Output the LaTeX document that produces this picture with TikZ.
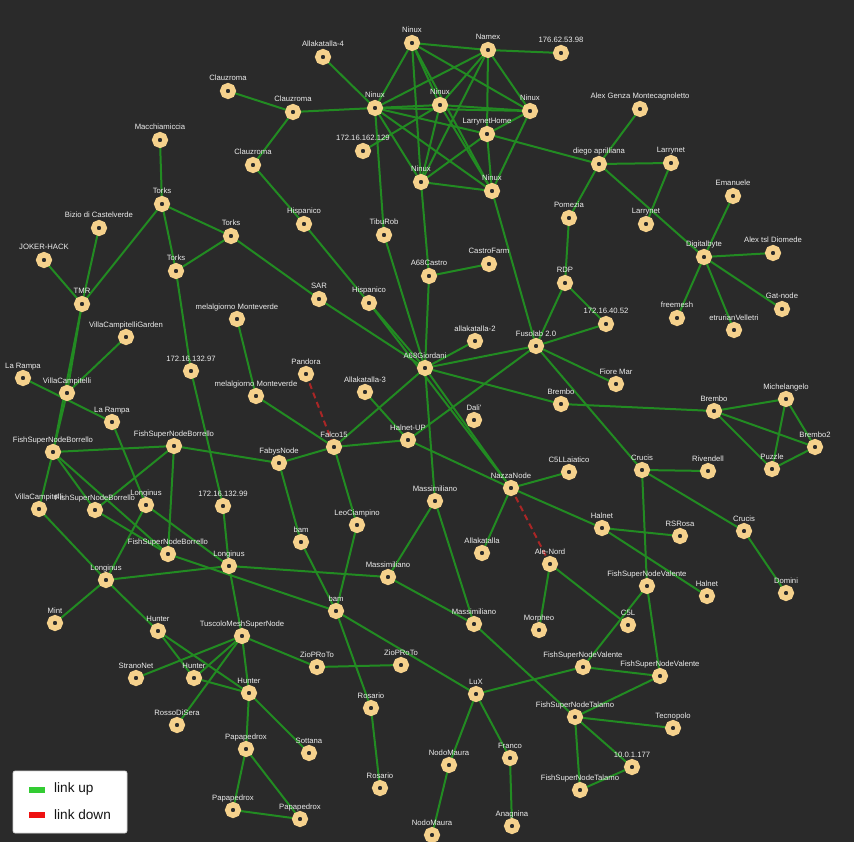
\documentclass[tikz,border=0pt]{standalone}
\usepackage{fontspec}
\setmainfont{Liberation Sans}[Ligatures=TeXOff]
\definecolor{bgc}{RGB}{42,42,42}
\definecolor{ringc}{RGB}{245,209,140}
\definecolor{linkc}{RGB}{34,139,34}
\definecolor{downc}{RGB}{170,38,38}
\definecolor{labc}{RGB}{236,236,236}
\pgfdeclarelayer{back}
\pgfsetlayers{back,main}
\tikzset{
  nd/.style={circle,draw=ringc,line width=5.5pt,fill=bgc,minimum size=10.5pt,inner sep=0pt},
  lab/.style={anchor=base,inner sep=0pt,text=labc,font=\fontsize{7.7}{8}\selectfont},
  edge/.style={draw=linkc,line width=2pt},
  linkdown/.style={draw=downc,line width=2pt,dash pattern=on 6pt off 4pt},
  legendbox/.style={fill=white,draw={rgb,255:red,210;green,210;blue,210},rounded corners=2pt,line width=0.6pt},
  legendtext/.style={anchor=west,inner sep=0pt,text={rgb,255:red,20;green,20;blue,20},font=\fontsize{13.6}{15}\selectfont}
}
\newcommand\Nd[4]{\node[nd] (#1) at (#2,#3) {};\node[lab] (#1-l) at (#2,#3-10) {#4};}
\begin{document}
\begin{tikzpicture}[x=1pt,y=-1pt]
\useasboundingbox (0,0) rectangle (854,842);
\Nd{clz1}{228}{91}{Clauzroma}
\Nd{clz2}{293}{112}{Clauzroma}
\Nd{clz3}{253}{165}{Clauzroma}
\Nd{macc}{160}{140}{Macchiamiccia}
\Nd{torks1}{162}{204}{Torks}
\Nd{torks2}{231}{236}{Torks}
\Nd{torks3}{176}{271}{Torks}
\Nd{bizio}{99}{228}{Bizio di Castelverde}
\Nd{joker}{44}{260}{JOKER-HACK}
\Nd{tmr}{82}{304}{TMR}
\Nd{allak4}{323}{57}{Allakatalla-4}
\Nd{nxtop}{412}{43}{Ninux}
\Nd{namex}{488}{50}{Namex}
\Nd{ipa}{561}{53}{176.62.53.98}
\Nd{nxl}{375}{108}{Ninux}
\Nd{nxm}{440}{105}{Ninux}
\Nd{nxr}{530}{111}{Ninux}
\Nd{lhome}{487}{134}{LarrynetHome}
\Nd{ipb}{363}{151}{172.16.162.129}
\Nd{nxbl}{421}{182}{Ninux}
\Nd{nxbr}{492}{191}{Ninux}
\Nd{hisp1}{304}{224}{Hispanico}
\Nd{tibu}{384}{235}{TibuRob}
\Nd{a68c}{429}{276}{A68Castro}
\Nd{cfarm}{489}{264}{CastroFarm}
\Nd{pomezia}{569}{218}{Pomezia}
\Nd{rdp}{565}{283}{RDP}
\Nd{alexg}{640}{109}{Alex Genza Montecagnoletto}
\Nd{diego}{599}{164}{diego aprilliana}
\Nd{larry1}{671}{163}{Larrynet}
\Nd{larry2}{646}{224}{Larrynet}
\Nd{emanuele}{733}{196}{Emanuele}
\Nd{digital}{704}{257}{Digitalbyte}
\Nd{alexd}{773}{253}{Alex tsl Diomede}
\Nd{vcg}{126}{337}{VillaCampitelliGarden}
\Nd{lar1}{23}{378}{La Rampa}
\Nd{vc1}{67}{393}{VillaCampitelli}
\Nd{lar2}{112}{422}{La Rampa}
\Nd{ipc}{191}{371}{172.16.132.97}
\Nd{mel1}{237}{319}{melalgiorno Monteverde}
\Nd{mel2}{256}{396}{melalgiorno Monteverde}
\Nd{fsnb1}{53}{452}{FishSuperNodeBorrello}
\Nd{fsnb2}{174}{446}{FishSuperNodeBorrello}
\Nd{faby}{279}{463}{FabysNode}
\Nd{vc2}{39}{509}{VillaCampitelli}
\Nd{fsnb3}{95}{510}{FishSuperNodeBorrello}
\Nd{long1}{146}{505}{Longinus}
\Nd{ipd}{223}{506}{172.16.132.99}
\Nd{fsnb4}{168}{554}{FishSuperNodeBorrello}
\Nd{long2}{229}{566}{Longinus}
\Nd{long3}{106}{580}{Longinus}
\Nd{sar}{319}{299}{SAR}
\Nd{hisp2}{369}{303}{Hispanico}
\Nd{a68g}{425}{368}{A68Giordani}
\Nd{allak2}{475}{341}{allakatalla-2}
\Nd{fuso}{536}{346}{Fusolab 2.0}
\Nd{pandora}{306}{374}{Pandora}
\Nd{allak3}{365}{392}{Allakatalla-3}
\Nd{brembo1}{561}{404}{Brembo}
\Nd{dali}{474}{420}{Dali'}
\Nd{halnetup}{408}{440}{Halnet-UP}
\Nd{falco}{334}{447}{Falco15}
\Nd{nazza}{511}{488}{NazzaNode}
\Nd{cfive}{569}{472}{C5LLaiatico}
\Nd{mass1}{435}{501}{Massimiliano}
\Nd{leo}{357}{525}{LeoCiampino}
\Nd{bam1}{301}{542}{bam}
\Nd{allak}{482}{553}{Allakatalla}
\Nd{alenord}{550}{564}{Ale-Nord}
\Nd{freemesh}{677}{318}{freemesh}
\Nd{etrurian}{734}{330}{etrurianVelletri}
\Nd{gat}{782}{309}{Gat-node}
\Nd{ipe}{606}{324}{172.16.40.52}
\Nd{fiore}{616}{384}{Fiore Mar}
\Nd{brembo2}{714}{411}{Brembo}
\Nd{michel}{786}{399}{Michelangelo}
\Nd{brembob}{815}{447}{Brembo2}
\Nd{puzzle}{772}{469}{Puzzle}
\Nd{crucis1}{642}{470}{Crucis}
\Nd{rivendell}{708}{471}{Rivendell}
\Nd{crucis2}{744}{531}{Crucis}
\Nd{halnet}{602}{528}{Halnet}
\Nd{rsrosa}{680}{536}{RSRosa}
\Nd{mint}{55}{623}{Mint}
\Nd{hunter1}{158}{631}{Hunter}
\Nd{tuscolo}{242}{636}{TuscoloMeshSuperNode}
\Nd{strano}{136}{678}{StranoNet}
\Nd{hunter2}{194}{678}{Hunter}
\Nd{hunter3}{249}{693}{Hunter}
\Nd{rosso}{177}{725}{RossoDiSera}
\Nd{papa1}{246}{749}{Papapedrox}
\Nd{papa2}{233}{810}{Papapedrox}
\Nd{papa3}{300}{819}{Papapedrox}
\Nd{mass2}{388}{577}{Massimiliano}
\Nd{bam2}{336}{611}{bam}
\Nd{mass3}{474}{624}{Massimiliano}
\Nd{morpheo}{539}{630}{Morpheo}
\Nd{zio1}{317}{667}{ZioPRoTo}
\Nd{zio2}{401}{665}{ZioPRoTo}
\Nd{lux}{476}{694}{LuX}
\Nd{rosario1}{371}{708}{Rosario}
\Nd{sottana}{309}{753}{Sottana}
\Nd{nodo1}{449}{765}{NodoMaura}
\Nd{franco}{510}{758}{Franco}
\Nd{rosario2}{380}{788}{Rosario}
\Nd{nodo2}{432}{835}{NodoMaura}
\Nd{anagnina}{512}{826}{Anagnina}
\Nd{fsnv1}{647}{586}{FishSuperNodeValente}
\Nd{halnet2}{707}{596}{Halnet}
\Nd{domini}{786}{593}{Domini}
\Nd{cfl}{628}{625}{C5L}
\Nd{fsnv2}{583}{667}{FishSuperNodeValente}
\Nd{fsnv3}{660}{676}{FishSuperNodeValente}
\Nd{fsnt1}{575}{717}{FishSuperNodeTalamo}
\Nd{tecno}{673}{728}{Tecnopolo}
\Nd{ipf}{632}{767}{10.0.1.177}
\Nd{fsnt2}{580}{790}{FishSuperNodeTalamo}
% legend
\node[legendbox,minimum width=114pt,minimum height=62pt,inner sep=0pt] (legend) at (70,802) {};
\node[fill={rgb,255:red,51;green,204;blue,51},minimum width=16pt,minimum height=6pt,inner sep=0pt] (swup) at (37,789.5) {};
\node[fill={rgb,255:red,238;green,17;blue,17},minimum width=16pt,minimum height=6pt,inner sep=0pt] (swdown) at (37,815) {};
\node[legendtext] (tup) at (54,789) {link up};
\node[legendtext] (tdown) at (54,815) {link down};
\begin{pgfonlayer}{back}
\fill[bgc] (0,0) rectangle (854,842);
\foreach \a/\b in {clz1/clz2,clz2/clz3,clz3/hisp1,clz2/nxl,hisp1/hisp2,hisp2/a68g,hisp2/nazza,
 macc/torks1,torks1/torks2,torks1/torks3,torks1/tmr,torks3/torks2,torks2/sar,sar/a68g,torks3/ipc,
 bizio/tmr,joker/tmr,tmr/vc1,tmr/fsnb1,vcg/vc1,vc1/fsnb1,lar1/lar2,lar2/long1,
 allak4/nxl,nxtop/namex,namex/ipa,nxtop/nxl,nxtop/nxbl,nxtop/nxm,nxtop/nxbr,nxtop/nxr,
 namex/nxl,namex/nxm,namex/nxbl,namex/lhome,namex/nxr,nxl/nxm,nxl/nxr,nxl/lhome,nxl/nxbl,nxl/nxbr,nxl/tibu,
 nxm/nxr,nxm/nxbl,nxm/nxbr,nxm/ipb,nxr/lhome,nxr/nxbr,lhome/nxbl,lhome/nxbr,lhome/diego,nxbl/nxbr,nxbl/a68c,nxbr/fuso,
 tibu/a68g,a68c/cfarm,a68c/a68g,
 pomezia/rdp,diego/pomezia,diego/alexg,diego/larry1,diego/digital,larry1/larry2,
 digital/emanuele,digital/alexd,digital/freemesh,digital/etrurian,digital/gat,
 rdp/fuso,rdp/ipe,fuso/ipe,fuso/fiore,fuso/crucis1,fuso/a68g,fuso/halnetup,
 a68g/allak2,a68g/brembo1,a68g/falco,a68g/mass1,a68g/nazza,
 brembo1/brembo2,brembo2/michel,brembo2/brembob,brembo2/puzzle,michel/puzzle,michel/brembob,puzzle/brembob,
 crucis1/rivendell,crucis1/crucis2,crucis1/fsnv1,crucis2/domini,
 halnet/rsrosa,halnet/halnet2,nazza/halnet,
 allak3/halnetup,halnetup/falco,halnetup/nazza,
 falco/leo,leo/bam2,mel1/mel2,mel2/falco,faby/falco,faby/bam1,bam1/bam2,
 nazza/cfive,nazza/allak,mass1/mass2,mass1/mass3,
 fsnb1/fsnb2,fsnb1/vc2,fsnb1/fsnb3,fsnb1/fsnb4,fsnb2/fsnb3,fsnb2/fsnb4,fsnb2/faby,fsnb3/fsnb4,fsnb4/bam2,
 ipc/ipd,ipd/long2,vc2/long3,long1/long3,long1/long2,
 long3/long2,long3/mint,long3/hunter1,long2/tuscolo,long2/mass2,
 tuscolo/strano,tuscolo/hunter2,tuscolo/rosso,tuscolo/hunter3,tuscolo/zio1,
 hunter1/hunter2,hunter1/hunter3,hunter2/hunter3,hunter3/papa1,hunter3/sottana,papa1/papa2,papa1/papa3,papa2/papa3,
 mass2/mass3,bam2/rosario1,bam2/lux,zio1/zio2,mass3/fsnt1,lux/fsnv2,lux/nodo1,lux/franco,nodo1/nodo2,franco/anagnina,
 rosario1/rosario2,morpheo/alenord,alenord/cfl,fsnv1/fsnv2,fsnv1/fsnv3,fsnv2/fsnv3,fsnv3/fsnt1,fsnt1/tecno,fsnt1/ipf,fsnt1/fsnt2,fsnt2/ipf}
  {\draw[edge] (\a.center) -- (\b.center);}
\draw[linkdown] (pandora.center) -- (falco.center);
\draw[linkdown] (nazza.center) -- (alenord.center);
\end{pgfonlayer}
\end{tikzpicture}
\end{document}
